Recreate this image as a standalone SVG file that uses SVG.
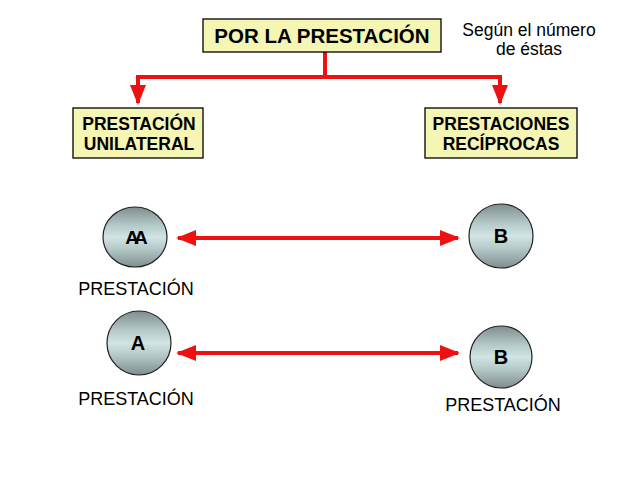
<svg xmlns="http://www.w3.org/2000/svg" width="638" height="479" viewBox="0 0 638 479">
<style>
.box{fill:#f5f5b4;stroke:#000;stroke-width:1.3}
.bt{font-family:"Liberation Sans",Arial,sans-serif;font-weight:bold;fill:#000;text-anchor:middle}
.nt{font-family:"Liberation Sans",Arial,sans-serif;fill:#000;text-anchor:middle}
.circ{fill:url(#g);stroke:#222;stroke-width:1.2}
.red{stroke:#ee1111;stroke-width:4;fill:none}
</style>
<defs>
<linearGradient id="g" x1="0" y1="0" x2="0" y2="1">
<stop offset="0" stop-color="#7f8d8d"/>
<stop offset="0.3" stop-color="#b4c8c8"/>
<stop offset="0.5" stop-color="#d2e4e4"/>
<stop offset="0.7" stop-color="#b4c8c8"/>
<stop offset="1" stop-color="#7f8d8d"/>
</linearGradient>
<marker id="ah" markerWidth="5" markerHeight="4" refX="4.5" refY="2" orient="auto-start-reverse" markerUnits="strokeWidth">
<path d="M0,0 L5,2 L0,4 Z" fill="#ee1111"/>
</marker>
</defs>
<g id="connectors">
<path class="red" d="M325,52 V77"/>
<path class="red" d="M138,77 H500"/>
<path class="red" d="M138,75 V103" marker-end="url(#ah)"/>
<path class="red" d="M500,75 V103" marker-end="url(#ah)"/>
<path class="red" d="M178,238 H458" marker-start="url(#ah)" marker-end="url(#ah)"/>
<path class="red" d="M178,353 H458" marker-start="url(#ah)" marker-end="url(#ah)"/>
</g>
<g id="top">
<rect class="box" x="203" y="19" width="238" height="33"/>
<text class="bt" x="322" y="43" font-size="20.5">POR LA PRESTACIÓN</text>
</g>
<g id="note">
<text class="nt" x="529" y="36" font-size="17.5">Según el número</text>
<text class="nt" x="529" y="55" font-size="17.5">de éstas</text>
</g>
<g id="left">
<rect class="box" x="73" y="108" width="130" height="50"/>
<text class="bt" x="139" y="130" font-size="17.5">PRESTACIÓN</text>
<text class="bt" x="139" y="150" font-size="17.5">UNILATERAL</text>
</g>
<g id="right">
<rect class="box" x="425" y="108" width="152" height="50"/>
<text class="bt" x="501" y="130" font-size="17.5">PRESTACIONES</text>
<text class="bt" x="501" y="150" font-size="17.5">RECÍPROCAS</text>
</g>
<g id="aa">
<ellipse class="circ" cx="135" cy="237" rx="32" ry="30"/>
<text class="bt" x="134" y="244" font-size="19" letter-spacing="-5">AA</text>
<text class="nt" x="136" y="295" font-size="18">PRESTACIÓN</text>
</g>
<g id="b1">
<circle class="circ" cx="501" cy="236" r="32"/>
<text class="bt" x="501" y="243" font-size="20">B</text>
</g>
<g id="a">
<circle class="circ" cx="139" cy="343" r="32"/>
<text class="bt" x="138" y="350" font-size="20">A</text>
<text class="nt" x="136" y="405" font-size="18">PRESTACIÓN</text>
</g>
<g id="b2">
<circle class="circ" cx="501" cy="357" r="31"/>
<text class="bt" x="501" y="364" font-size="20">B</text>
<text class="nt" x="503" y="411" font-size="18">PRESTACIÓN</text>
</g>
</svg>
